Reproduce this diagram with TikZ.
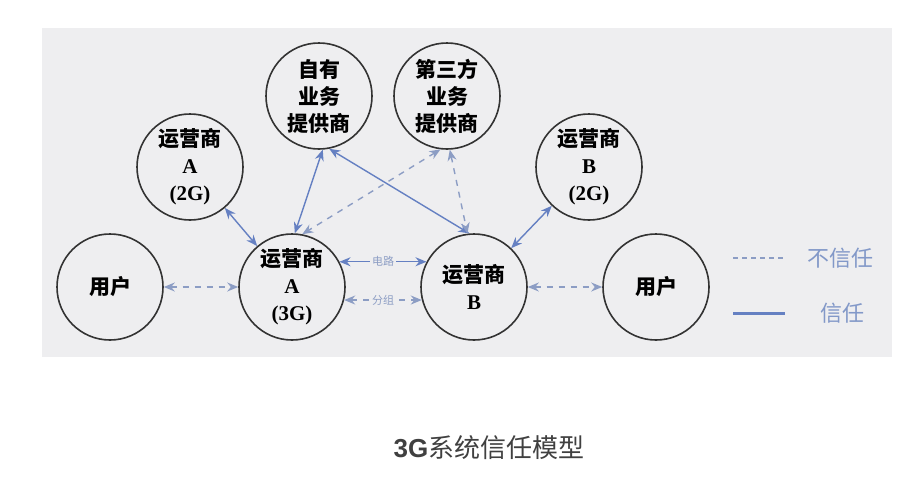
\documentclass[tikz,border=0pt]{standalone}
\usepackage{fontspec}
\setmainfont{Liberation Serif}
\newfontfamily\cjk{Noto Sans CJK SC}
\newfontfamily\sans{Liberation Sans}
\usetikzlibrary{arrows.meta, positioning}
\definecolor{bggray}{HTML}{EEEEF0}
\definecolor{linkblue}{HTML}{6580C2}
\definecolor{dashblue}{HTML}{8C9DC4}
\definecolor{legendblue}{HTML}{8298C8}
\definecolor{titlegray}{HTML}{404040}
\tikzstyle{round}=[thick,draw=black!80,circle,minimum size=53pt,inner sep=0pt,align=center,font=\bfseries\fontsize{10.5}{13.5}\selectfont]
\tikzstyle{trust}=[linkblue,line width=0.7pt,{Stealth[length=5.5pt,width=4.5pt]}-{Stealth[length=5.5pt,width=4.5pt]}]
\tikzstyle{distrust}=[trust,dashblue,dashed]
\tikzstyle{linklabel}=[auto=false,fill=bggray,inner sep=1pt,text=dashblue,font=\cjk\fontsize{5.5}{6}\selectfont]
\tikzstyle{legendtext}=[text=legendblue,font=\cjk\fontsize{11}{12}\selectfont]
\newcommand{\zh}[1]{{\cjk\bfseries #1}}

\begin{document}
\begin{tikzpicture}[auto,node distance=91pt,>=Stealth]
    \useasboundingbox (0,0) rectangle (462pt,244.5pt);
    \fill[bggray] (21pt,66pt) rectangle (446pt,230.5pt);

    \node[round] (userA) at (55pt,101pt) {\zh{用户}};
    \node[round, right of=userA] (opA3) {\zh{运营商}\\A\\(3G)};
    \node[round, right of=opA3] (opB3) {\zh{运营商}\\B};
    \node[round, right of=opB3] (userB) {\zh{用户}};
    \node[round] (opA2) at ([shift={(-51pt,60pt)}]opA3) {\zh{运营商}\\A\\(2G)};
    \node[round] (opB2) at ([shift={(57.5pt,60pt)}]opB3) {\zh{运营商}\\B\\(2G)};
    \node[round] (ownsp) at ([shift={(13.5pt,95.5pt)}]opA3) {\zh{自有}\\\zh{业务}\\\zh{提供商}};
    \node[round, right=64pt of ownsp.center, anchor=center] (thirdsp) {\zh{第三方}\\\zh{业务}\\\zh{提供商}};

    \draw[distrust] (userA) -- (opA3);
    \draw[trust] (opA2) -- (opA3);
    \draw[trust] (ownsp.-86) -- (opA3.87);
    \draw[trust] (ownsp.-79) -- (opB3.95);
    \draw[distrust] (thirdsp.-97) -- (opA3.79);
    \draw[distrust] (thirdsp.-87) -- (opB3.97);
    \draw[trust] (opB2) -- (opB3);
    \draw[distrust] (opB3) -- (userB);
    \draw[trust] (opA3.28) -- node[linklabel, pos=0.5] {电路} (opB3.152);
    \draw[distrust] (opA3.-14) -- node[linklabel, pos=0.5] {分组} (opB3.194);

    % legend
    \coordinate (dashL) at (366.5pt,115.5pt);
    \coordinate (dashR) at (392.5pt,115.5pt);
    \coordinate (solidL) at (366.5pt,88pt);
    \coordinate (solidR) at (392.5pt,88pt);
    \draw[dashblue, line width=0.6pt, dash pattern=on 2.5pt off 2pt] (dashL) -- (dashR);
    \draw[linkblue, line width=1.5pt] (solidL) -- (solidR);
    \node[legendtext] (distrusttext) at (420pt,115.5pt) {不信任};
    \node[legendtext] (trusttext) at (421pt,88pt) {信任};

    \node[text=titlegray, font=\fontsize{13}{15}\selectfont] (title) at (244.5pt,20.5pt) {{\sans\bfseries 3G}\cjk 系统信任模型};
\end{tikzpicture}
\end{document}
